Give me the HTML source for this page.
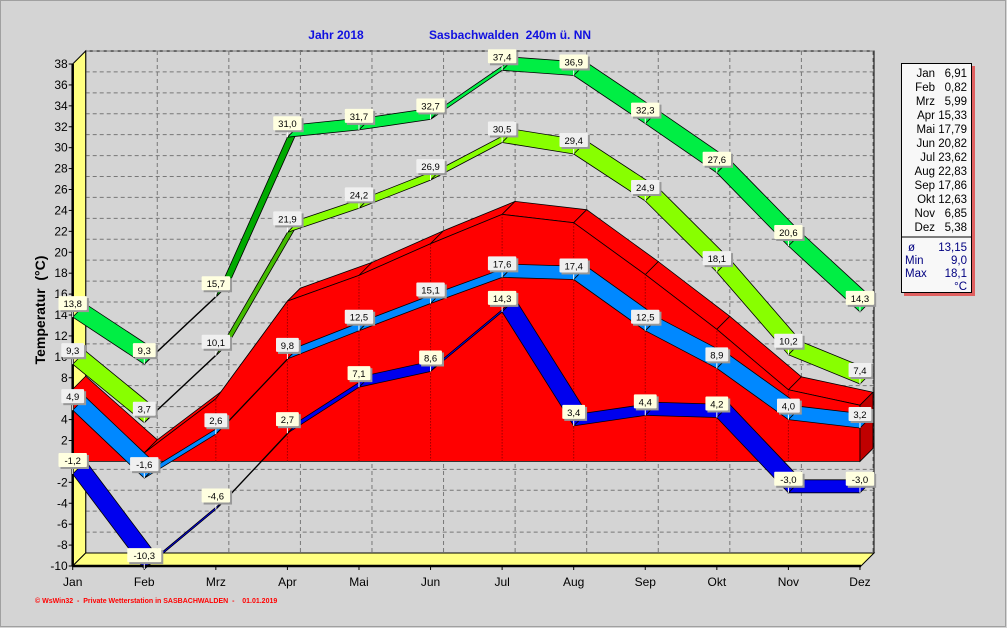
<!DOCTYPE html>
<html><head><meta charset="utf-8">
<style>
html,body{margin:0;padding:0;background:#d4d4d4;width:1007px;height:628px;overflow:hidden;font-family:"Liberation Sans",sans-serif;}
</style></head>
<body>
<svg id="s" width="1007" height="628" xmlns="http://www.w3.org/2000/svg" style="position:absolute;left:0;top:0"></svg>
<script>
const S=document.getElementById('s');
let h='';
const X0=72.7,DX=71.57,D=13;
const xf=i=>X0+i*DX;
const yf=v=>566-(v+10)*10.458;
const P=a=>a.map(p=>p[0].toFixed(1)+','+p[1].toFixed(1)).join(' ');
h+='<rect x="0" y="0" width="1007" height="628" fill="#d4d4d4"/>';
h+='<rect x="0.5" y="0.5" width="1005" height="626" fill="none" stroke="#a0a0a0"/>';
// back wall
h+=`<rect x="${X0+D}" y="${yf(38)-D}" width="${874-X0-D}" height="${yf(-10)-yf(38)}" fill="#d4d4d4" stroke="#000"/>`;
for(let v=-8;v<=38;v+=2){h+=`<line x1="${X0+D}" x2="874" y1="${yf(v)-D}" y2="${yf(v)-D}" stroke="#777" stroke-dasharray="4,3"/>`;}
for(let i=1;i<12;i++){h+=`<line x1="${xf(i)+D}" x2="${xf(i)+D}" y1="${yf(38)-D}" y2="${yf(-10)-D}" stroke="#777" stroke-dasharray="4,3"/>`;}
// left wall + floor
h+=`<polygon points="${P([[X0,yf(38)],[X0+D,yf(38)-D],[X0+D,yf(-10)-D],[X0,yf(-10)]])}" fill="#ffff80" stroke="#000"/>`;
h+=`<polygon points="${P([[X0,yf(-10)],[X0+D,yf(-10)-D],[874,yf(-10)-D],[874-D,yf(-10)]])}" fill="#ffff80" stroke="#000"/>`;
// zero line back
h+=`<line x1="${X0+D}" x2="874" y1="${yf(0)-D}" y2="${yf(0)-D}" stroke="#777" stroke-dasharray="4,3"/>`;
function ribbon(vals,c,dark){
 for(let i=0;i<11;i++){
  const a=[xf(i),yf(vals[i])],b=[xf(i+1),yf(vals[i+1])];
  const cr=(b[0]-a[0])*(-D)-(b[1]-a[1])*D;
  const col=cr>0?dark:c;
  h+=`<polygon points="${P([a,b,[b[0]+D,b[1]-D],[a[0]+D,a[1]-D]])}" fill="${col}" stroke="#000" stroke-width="0.8"/>`;
 }
}
const amax=[13.8,9.3,15.7,31.0,31.7,32.7,37.4,36.9,32.3,27.6,20.6,14.3];
const vmax=[9.3,3.7,10.1,21.9,24.2,26.9,30.5,29.4,24.9,18.1,10.2,7.4];
const mean=[6.91,0.82,5.99,15.33,17.79,20.82,23.62,22.83,17.86,12.63,6.85,5.38];
const vmin=[4.9,-1.6,2.6,9.8,12.5,15.1,17.6,17.4,12.5,8.9,4.0,3.2];
const amin=[-1.2,-10.3,-4.6,2.7,7.1,8.6,14.3,3.4,4.4,4.2,-3.0,-3.0];
ribbon(amax,'#00ee44','#00aa00');
ribbon(vmax,'#88ff00','#44bb00');
// red area
for(let i=0;i<11;i++){
 const a=[xf(i),yf(mean[i])],b=[xf(i+1),yf(mean[i+1])];
 h+=`<polygon points="${P([a,b,[b[0]+D,b[1]-D],[a[0]+D,a[1]-D]])}" fill="#ff0000" stroke="#000" stroke-width="0.8"/>`;
}
let fp=[[xf(0),yf(0)]];for(let i=0;i<12;i++)fp.push([xf(i),yf(mean[i])]);fp.push([xf(11),yf(0)]);
h+=`<polygon points="${P(fp)}" fill="#ff0000" stroke="#000" stroke-width="0.8"/>`;
h+=`<polygon points="${P([[xf(11),yf(mean[11])],[xf(11),yf(0)],[xf(11)+D,yf(0)-D],[xf(11)+D,yf(mean[11])-D]])}" fill="#c00000" stroke="#000" stroke-width="0.8"/>`;
for(let i=2;i<11;i++){h+=`<line x1="${xf(i)}" x2="${xf(i)}" y1="${yf(0)}" y2="${yf(mean[i])}" stroke="#600" stroke-dasharray="1,2"/>`;}
ribbon(vmin,'#0088ff','#0060d0');
ribbon(amin,'#0000ee','#0000aa');
// axes
h+=`<line x1="${X0}" x2="${X0}" y1="${yf(38)}" y2="${yf(-10)}" stroke="#000" stroke-width="2.5"/>`;
h+=`<line x1="${X0}" x2="${874-D}" y1="${yf(-10)}" y2="${yf(-10)}" stroke="#000" stroke-width="2.5"/>`;
for(let v=-10;v<=38;v+=2){h+=`<line x1="${X0-4}" x2="${X0}" y1="${yf(v)}" y2="${yf(v)}" stroke="#000"/><text x="${X0-5}" y="${yf(v)+4}" font-size="12" text-anchor="end">${v}</text>`;}
const M=['Jan','Feb','Mrz','Apr','Mai','Jun','Jul','Aug','Sep','Okt','Nov','Dez'];
for(let i=0;i<12;i++){h+=`<line x1="${xf(i)}" x2="${xf(i)}" y1="${yf(-10)}" y2="${yf(-10)+4}" stroke="#000"/><text x="${xf(i)}" y="${yf(-10)+20}" font-size="12" text-anchor="middle">${M[i]}</text>`;}
// labels
function labels(vals,bg){
 for(let i=0;i<12;i++){const x=xf(i),y=yf(vals[i]);const t=vals[i].toFixed(1).replace('.',',');
  const w=t.length*5.6+6;
  h+=`<line x1="${x}" x2="${x}" y1="${y}" y2="${y-6}" stroke="#fff"/>`;
  h+=`<rect x="${x-w/2+2}" y="${y-19}" width="${w}" height="14" fill="#999"/>`;
  h+=`<rect x="${x-w/2}" y="${y-21}" width="${w}" height="14" fill="${bg}" rx="1"/>`;
  h+=`<text x="${x}" y="${y-10}" font-size="9.5" text-anchor="middle">${t}</text>`;}
}
labels(amax,'#ffffe0');labels(vmax,'#f0f0f0');labels(vmin,'#f0f0f0');labels(amin,'#ffffe0');
// titles
h+=`<text x="336" y="39" font-size="12" font-weight="bold" fill="#1010e0" text-anchor="middle">Jahr  2018</text>`;
h+=`<text x="510" y="39" font-size="12" font-weight="bold" fill="#1010e0" text-anchor="middle" xml:space="preserve">Sasbachwalden  240m ü. NN</text>`;
h+=`<text transform="translate(45,310) rotate(-90)" font-size="14" font-weight="bold" text-anchor="middle" xml:space="preserve">Temperatur  (°C)</text>`;
h+=`<text x="35" y="603" font-size="7" font-weight="bold" fill="#ff0000" xml:space="preserve">© WsWin32  -  Private Wetterstation in SASBACHWALDEN  -    01.01.2019</text>`;
// legend
h+=`<rect x="904" y="66" width="71" height="230" fill="#e06060"/>`;
h+=`<rect x="901.5" y="63.5" width="70" height="229" fill="#f8f8f8" stroke="#000"/>`;
h+=`<line x1="902" x2="971" y1="237" y2="237" stroke="#000"/>`;
for(let i=0;i<12;i++){const y=77+i*14;h+=`<text x="935" y="${y}" font-size="11.5" text-anchor="end">${M[i]}</text><text x="967" y="${y}" font-size="11.5" text-anchor="end">${mean[i].toFixed(2).replace('.',',')}</text>`;}
const lg=[['ø','13,15'],['Min','9,0'],['Max','18,1']];
lg.forEach((r,k)=>{const y=251+k*13;h+=`<text x="${k==0?908:905}" y="${y}" font-size="11.5" fill="#000080">${r[0]}</text><text x="967" y="${y}" font-size="11.5" fill="#000080" text-anchor="end">${r[1]}</text>`;});
h+=`<text x="967" y="290" font-size="11.5" fill="#000080" text-anchor="end">°C</text>`;
S.innerHTML=h;
</script>
</body></html>
